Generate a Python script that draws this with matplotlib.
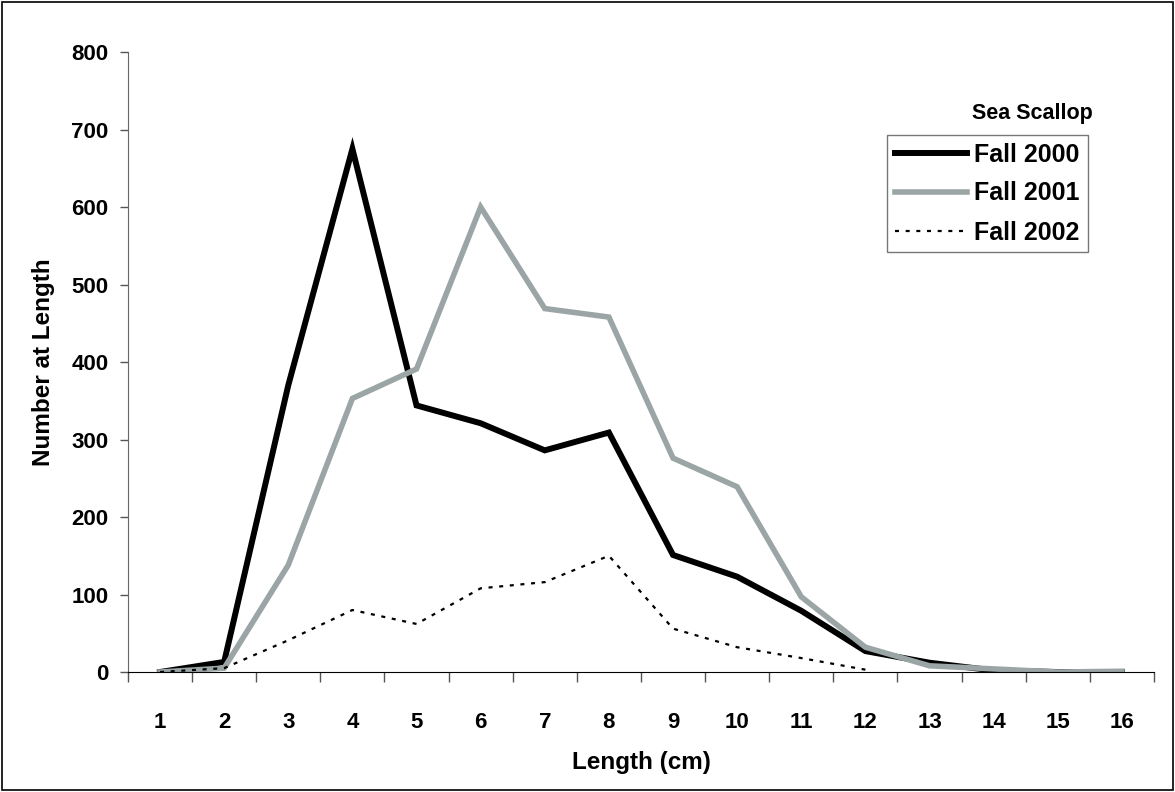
import matplotlib
matplotlib.use('Agg')
import matplotlib.pyplot as plt
import matplotlib.patches as patches
import numpy as np

# Length classes (cm) and number at length for each fall survey
lengths = list(range(1, 17))
fall_2000 = [0, 13, 370, 675, 344, 321, 286, 309, 151, 123, 79, 27, 12, 2, 0, 0]
fall_2001 = [0, 5, 138, 353, 391, 600, 469, 458, 276, 239, 97, 32, 8, 4, 0, 1]
fall_2002 = [0, 5, 41, 80, 62, 108, 116, 150, 56, 32, 18, 3,
             np.nan, np.nan, np.nan, np.nan]

y_ticks = list(range(0, 900, 100))

plt.rcParams['font.family'] = ['Liberation Sans', 'DejaVu Sans']
plt.rcParams['font.weight'] = 'bold'

fig = plt.figure(figsize=(11.75, 7.92), dpi=100)
ax = fig.add_axes([0.1089, 0.1515, 0.8732, 0.7828])

ax.plot(lengths, fall_2000, color='black', lw=4.3, solid_joinstyle='miter',
        label='Fall 2000')
ax.plot(lengths, fall_2001, color='#9ba5a5', lw=4.0, solid_joinstyle='miter',
        label='Fall 2001')
ax.plot(lengths, fall_2002, color='black', lw=1.6, linestyle=(0, (1.8, 3.0)),
        label='Fall 2002')

# Axes limits and ticks (category style axis)
ax.set_xlim(0.5, 16.5)
ax.set_ylim(0, 800)
ax.set_xticks(lengths)
ax.set_xticklabels([str(v) for v in lengths])
ax.set_xticks(np.arange(0.5, 17, 1), minor=True)
ax.tick_params(axis='x', which='major', length=0, pad=29, labelsize=16)
ax.tick_params(axis='x', which='minor', length=7, width=1, direction='out',
               color='#555555')
ax.set_yticks(y_ticks)
ax.tick_params(axis='y', length=6, width=1, direction='out', pad=8,
               labelsize=16, color='#555555')

for side in ['top', 'right']:
    ax.spines[side].set_visible(False)
ax.spines['left'].set_color('#666666')
ax.spines['bottom'].set_color('black')

ax.set_xlabel('Length (cm)', fontsize=17.5, fontweight='bold', labelpad=13)
ax.set_ylabel('Number at Length', fontsize=17.5, fontweight='bold', labelpad=12)

leg = ax.legend(loc='upper left', bbox_to_anchor=(887 / 1175, 1 - 135 / 792),
                bbox_transform=fig.transFigure, fontsize=18, frameon=True,
                fancybox=False, handlelength=2.9, handletextpad=0.3,
                borderpad=0.3, labelspacing=0.6, borderaxespad=0)
leg.get_frame().set_edgecolor('#555555')
leg.get_frame().set_linewidth(1.0)
for t in leg.get_texts():
    t.set_fontweight('bold')

fig.text(1032 / 1175, 1 - 113 / 792, 'Sea Scallop', ha='center', va='center',
         fontsize=15.5, fontweight='bold')

# Outer border around the whole chart
border = patches.Rectangle((0.0015, 0.002), 0.997, 0.996, transform=fig.transFigure,
                           fill=False, edgecolor='black', lw=1.2)
fig.patches.append(border)

plt.savefig('out.png', dpi=100)
plt.close(fig)
